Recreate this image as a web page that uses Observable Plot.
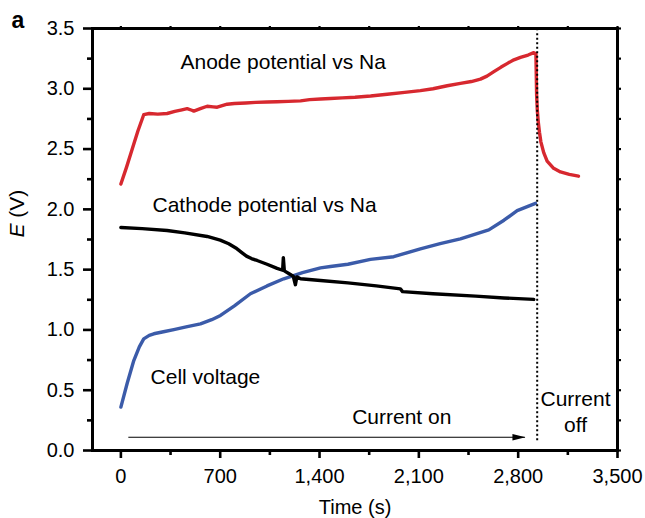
<!DOCTYPE html>
<html><head><meta charset="utf-8">
<script src="https://cdn.jsdelivr.net/npm/d3@7"></script>
<script src="https://cdn.jsdelivr.net/npm/@observablehq/plot@0.6"></script>
<style>body{margin:0;background:#fff}</style>
</head><body><div id="chart"></div>
<script>
// Anode potential vs Na: [time (s), E (V)]
const anode = [[0,2.21],[40,2.35],[80,2.50],[120,2.65],[161,2.785],[200,2.795],[260,2.79],[326,2.795],[380,2.812],[430,2.825],[467,2.835],[500,2.822],[514,2.815],[560,2.835],[608,2.855],[650,2.85],[679,2.847],[749,2.872],[800,2.878],[880,2.882],[950,2.887],[1031,2.89],[1100,2.893],[1180,2.896],[1266,2.90],[1330,2.91],[1407,2.915],[1477,2.92],[1560,2.925],[1650,2.93],[1760,2.94],[1877,2.955],[2000,2.97],[2111,2.985],[2200,3.00],[2300,3.025],[2393,3.045],[2470,3.06],[2534,3.08],[2580,3.105],[2626,3.14],[2680,3.18],[2731,3.215],[2770,3.24],[2816,3.26],[2870,3.28],[2910,3.30],[2925,3.29],[2930,2.95],[2935,2.82],[2942,2.72],[2950,2.64],[2960,2.56],[2980,2.47],[3004,2.40],[3050,2.34],[3098,2.31],[3160,2.29],[3225,2.275]];
// Cathode potential vs Na
const cathode = [[0,1.85],[150,1.84],[326,1.825],[450,1.805],[608,1.775],[700,1.745],[760,1.715],[810,1.68],[850,1.643],[885,1.612],[920,1.592],[960,1.576],[1030,1.545],[1101,1.51],[1140,1.495],[1145,1.6],[1152,1.49],[1180,1.47],[1215,1.445],[1230,1.375],[1240,1.44],[1266,1.425],[1407,1.41],[1600,1.39],[1800,1.365],[1970,1.34],[1985,1.318],[2200,1.30],[2500,1.28],[2700,1.265],[2910,1.253]];
// Cell voltage
const cell = [[0,0.36],[45,0.56],[91,0.746],[130,0.86],[161,0.926],[200,0.955],[232,0.968],[300,0.985],[373,1.003],[460,1.025],[561,1.05],[640,1.085],[702,1.12],[800,1.20],[913,1.30],[1030,1.365],[1148,1.424],[1280,1.475],[1407,1.515],[1477,1.526],[1600,1.545],[1759,1.585],[1923,1.607],[2111,1.673],[2250,1.715],[2393,1.756],[2593,1.83],[2700,1.91],[2793,1.99],[2922,2.05]];

const xMajor = [0,700,1400,2100,2800,3500];
const xMinor = [350,1050,1750,2450,3150];
const yMajor = [0,0.5,1,1.5,2,2.5,3,3.5];
const yMinor = [0.25,0.75,1.25,1.75,2.25,2.75,3.25];

const labels = [
  {t:420, E:3.22, text:"Anode potential vs Na"},
  {t:223, E:2.03, text:"Cathode potential vs Na"},
  {t:209, E:0.61, text:"Cell voltage"},
  {t:1630, E:0.276, text:"Current on"}
];
const offLabel = [{t:3204, E:0.328, text:"Current\noff"}];
const currentOff = [{t:2934, E1:0.08, E2:3.48}];
const arrowOn = [{t1:56, t2:2851, E:0.11}];

const head = {draw(ctx){ctx.moveTo(0,0);ctx.lineTo(-13,-3.2);ctx.lineTo(-13,3.2);ctx.closePath();}};
const none = () => "";

const plot = Plot.plot({
  width:645, height:518,
  marginLeft:92, marginRight:28, marginTop:28, marginBottom:68,
  style:{fontFamily:"'Liberation Sans', Arial, sans-serif", fontSize:"20px", color:"#000", background:"#fff"},
  x:{domain:[-200,3500]},
  y:{domain:[0,3.5]},
  marks:[
    Plot.line(anode,{x:d=>d[0], y:d=>d[1], stroke:"#d7282f", strokeWidth:3.4}),
    Plot.line(cell,{x:d=>d[0], y:d=>d[1], stroke:"#3b5ba9", strokeWidth:3.4}),
    Plot.line(cathode,{x:d=>d[0], y:d=>d[1], stroke:"#000", strokeWidth:3.4}),
    Plot.ruleX(currentOff,{x:"t", y1:"E1", y2:"E2", stroke:"#000", strokeWidth:2, strokeDasharray:"2,2.5"}),
    Plot.ruleY(arrowOn,{y:"E", x1:"t1", x2:"t2", stroke:"#000", strokeWidth:1.2}),
    Plot.dot(arrowOn,{x:"t2", y:"E", symbol:head, fill:"#000", stroke:null}),
    Plot.text(labels,{x:"t", y:"E", text:"text", textAnchor:"start", fontSize:21}),
    Plot.text(offLabel,{x:"t", y:"E", text:"text", textAnchor:"middle", fontSize:21, lineHeight:1.2}),
    Plot.frame({stroke:"#000", strokeWidth:3}),
    Plot.axisX(xMajor,{tickSize:8, tickPadding:10, tickFormat:d3.format(","), strokeWidth:2.6, fontSize:20, label:null}),
    Plot.axisX(xMinor,{tickSize:5, tickFormat:none, strokeWidth:2.6, label:null}),
    Plot.axisX([...xMajor,...xMinor],{anchor:"top", tickSize:3, tickFormat:none, strokeWidth:2.2, label:null}),
    Plot.axisY(yMajor,{tickSize:9, tickPadding:9, tickFormat:d3.format(".1f"), strokeWidth:2.6, fontSize:20, label:null}),
    Plot.axisY(yMinor,{tickSize:5, tickFormat:none, strokeWidth:2.6, label:null}),
    Plot.axisY([...yMajor,...yMinor],{anchor:"right", tickSize:3, tickFormat:none, strokeWidth:2.2, label:null}),
    Plot.text(["Time (s)"],{frameAnchor:"bottom", dx:0, dy:57, lineAnchor:"middle", fontSize:20}),
    Plot.text(["E (V)"],{frameAnchor:"left", dx:-75, dy:-2, rotate:-90, lineAnchor:"middle", fontSize:21}),
    Plot.text(["a"],{frameAnchor:"top-left", dx:-81, dy:-8, textAnchor:"start", lineAnchor:"middle", fontSize:23, fontWeight:"bold"})
  ]
});
document.getElementById("chart").appendChild(plot);
plot.querySelectorAll("text").forEach(t => {
  if (t.textContent === "E (V)") {
    t.textContent = "";
    const ns = "http://www.w3.org/2000/svg";
    const e = document.createElementNS(ns,"tspan"); e.setAttribute("font-style","italic"); e.textContent = "E";
    const r = document.createElementNS(ns,"tspan"); r.textContent = " (V)";
    t.appendChild(e); t.appendChild(r);
  }
});
</script>
</body></html>
